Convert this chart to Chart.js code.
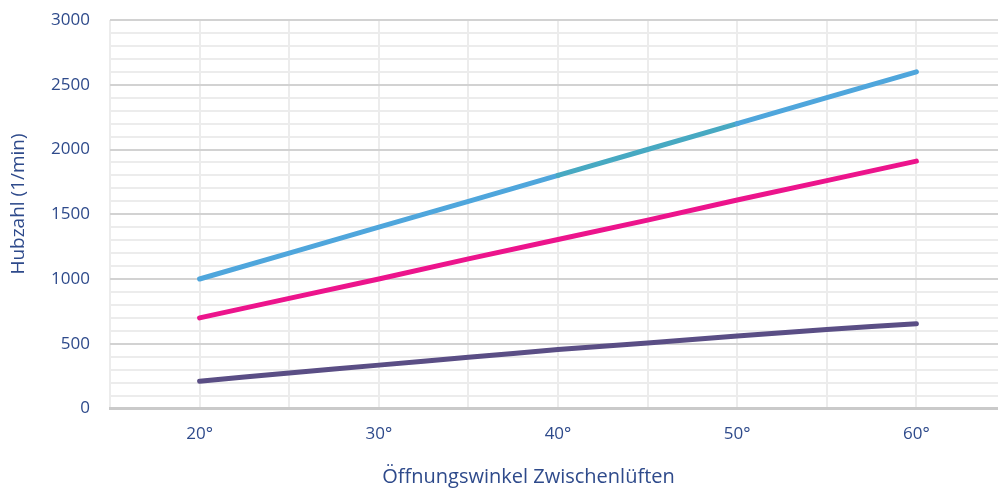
<!DOCTYPE html>
<html>
<head>
<meta charset="utf-8">
<script src="https://cdn.jsdelivr.net/npm/chart.js@4.4.0/dist/chart.umd.min.js"></script>
<style>
  html, body { margin: 0; padding: 0; background: #ffffff; overflow: hidden; }
  #wrap { width: 1006px; height: 489px; position: relative; }
</style>
</head>
<body>
<div id="wrap"><canvas id="c"></canvas></div>
<script>
// ---- data ----
const angles = [20, 25, 30, 35, 40, 45, 50, 55, 60];
const seriesBlue = [1000, 1200, 1400, 1600, 1800, 2000, 2200, 2400, 2600];
const seriesPink = [700, 850, 1000, 1155, 1305, 1455, 1610, 1760, 1910];
const seriesPurple = [210, 275, 335, 395, 455, 505, 560, 610, 655];
const xTickLabels = [20, 30, 40, 50, 60];
const yTickLabels = [0, 500, 1000, 1500, 2000, 2500, 3000];
const xTitle = 'Öffnungswinkel Zwischenlüften';
const yTitle = 'Hubzahl (1/min)';

const textColor = '#2E4A8B';
const fontFamily = '"Open Sans", "DejaVu Sans", sans-serif';

function toPoints(vals) { return angles.map((a, i) => ({ x: a, y: vals[i] })); }

const blue = '#4FA6DC', teal = '#47A9C2';

const titlesPlugin = {
  id: 'titles',
  afterDraw(chart) {
    const ctx = chart.ctx;
    ctx.save();
    ctx.fillStyle = textColor;
    ctx.font = '20px ' + fontFamily;
    ctx.textAlign = 'center';
    ctx.textBaseline = 'middle';
    ctx.fillText(xTitle, 528.5, 477);
    ctx.translate(19, 204);
    ctx.rotate(-Math.PI / 2);
    ctx.font = '19px ' + fontFamily;
    ctx.fillText(yTitle, 0, 0);
    ctx.restore();
  }
};

new Chart(document.getElementById('c'), {
  type: 'line',
  data: {
    datasets: [
      {
        label: 'A', data: toPoints(seriesBlue), borderColor: blue, borderWidth: 5,
        borderCapStyle: 'round', pointRadius: 0, tension: 0,
        segment: { borderColor: ctx => (ctx.p0.parsed.x >= 40 && ctx.p1.parsed.x <= 50) ? teal : blue }
      },
      { label: 'B', data: toPoints(seriesPink), borderColor: '#EC148C', borderWidth: 5, borderCapStyle: 'round', pointRadius: 0, tension: 0 },
      { label: 'C', data: toPoints(seriesPurple), borderColor: '#5A4E85', borderWidth: 5, borderCapStyle: 'round', pointRadius: 0, tension: 0.2 }
    ]
  },
  plugins: [titlesPlugin],
  options: {
    responsive: true,
    maintainAspectRatio: false,
    animation: false,
    layout: { padding: { top: 20, right: 0, bottom: 0, left: 0 } },
    plugins: { legend: { display: false }, tooltip: { enabled: false } },
    scales: {
      x: {
        type: 'linear', min: 15, max: 65,
        ticks: {
          stepSize: 5, autoSkip: false, maxRotation: 0, color: textColor, padding: 15,
          font: { family: fontFamily, size: 17 },
          callback: v => xTickLabels.includes(v) ? v + '°' : ''
        },
        grid: { color: '#ECECEC', lineWidth: 2, drawTicks: false },
        border: { display: true, color: '#CACACA', width: 3 },
        title: { display: false },
        afterFit: s => { s.height = 80.5; s.paddingLeft = 0; s.paddingRight = 0; }
      },
      y: {
        min: 0, max: 3000,
        ticks: {
          stepSize: 100, autoSkip: false, color: textColor, padding: 20,
          font: { family: fontFamily, size: 17 },
          callback: v => yTickLabels.includes(v) ? String(v) : ''
        },
        grid: {
          drawTicks: false, lineWidth: 2,
          color: ctx => (ctx.tick && ctx.tick.value % 500 === 0) ? '#D2D2D2' : '#ECECEC'
        },
        border: { display: false },
        title: { display: false },
        afterFit: s => { s.width = 110; s.paddingTop = 0; s.paddingBottom = 0; }
      }
    }
  }
});
</script>
</body>
</html>
